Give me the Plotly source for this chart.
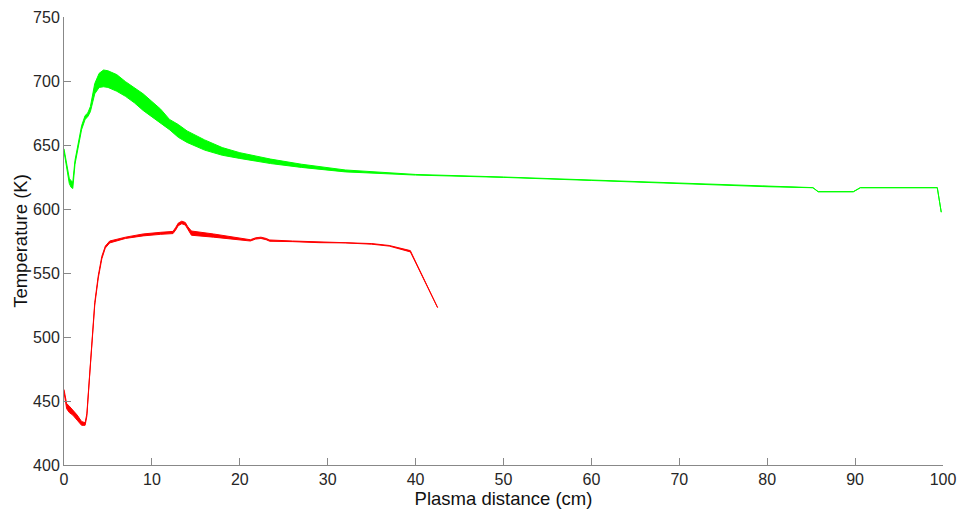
import plotly.graph_objects as go

# Green series (band: upper / lower)
green_x = [0, 0.3, 0.6, 0.8, 1.0, 1.25, 1.6, 2.0, 2.4, 2.7, 3.0, 3.5, 4.0, 4.5, 5.0, 6.0, 7.0, 8.0,
           9.0, 10.0, 11.0, 12.0, 13.0, 14.0, 16.0, 18.0, 20.0, 23.5, 27, 32, 40, 50, 60, 70, 80,
           85.2, 85.8, 89.8, 90.6, 95, 99.35, 99.8]
green_hi = [647, 636, 624, 622, 621, 638, 652, 665, 673, 675, 680, 698, 706, 708.6, 708, 705, 699.5, 695,
            690, 684, 678, 670, 666, 661, 654, 648, 644, 639, 635, 630.5, 627, 625, 622.5, 620, 617.5,
            616.7, 613.6, 613.6, 616.7, 616.7, 616.7, 597.5]
green_lo = [645, 632, 620, 617, 616, 635, 649, 662, 670, 672, 676, 690, 695, 695.5, 695, 692, 688, 683,
            677, 672, 667, 662, 656, 652, 646, 642, 639.5, 635.5, 632.5, 629, 626.5, 624.7, 622.3, 619.8, 617.4,
            616.6, 613.4, 613.4, 616.6, 616.6, 616.6, 597.5]

# Red series (band: upper / lower)
red_x = [0, 0.3, 0.6, 1.0, 1.5, 2.0, 2.4, 2.6, 2.9, 3.2, 3.5, 3.9, 4.3, 4.7, 5.2, 7, 9, 11, 12.4,
         12.7, 13.0, 13.4, 13.8, 14.1, 14.5, 17, 19, 21.2, 21.8, 22.4, 23.0, 23.4, 26, 29, 32, 35, 37,
         39.4, 42.5]
red_hi = [459, 448, 446, 443, 439, 434, 433, 440, 470, 500, 527, 548, 563, 571, 575, 578, 580.5, 581.8,
          582.5, 585.5, 589, 590.5, 589.5, 586, 582.8, 580.5, 578.5, 576, 577.5, 578, 577, 575.8, 575,
          574.3, 574, 573, 571.5, 567.5, 523]
red_lo = [457, 444, 441, 439, 435, 431, 431, 438, 468, 498, 525, 546, 561, 569.5, 573.5, 577, 579, 580.2,
          580.8, 583.5, 587, 588.5, 587.5, 584, 579.5, 578, 576.5, 575, 576.5, 577, 576, 574.8, 574.5,
          573.7, 573.5, 572.5, 571, 566.5, 523]

x_ticks = [0, 10, 20, 30, 40, 50, 60, 70, 80, 90, 100]
y_ticks = [400, 450, 500, 550, 600, 650, 700, 750]

fig = go.Figure()
for xs, lo, hi, col in [(green_x, green_lo, green_hi, "#00ff00"), (red_x, red_lo, red_hi, "#ff0000")]:
    fig.add_trace(go.Scatter(x=xs, y=lo, mode="lines", line=dict(color=col, width=1),
                             showlegend=False, hoverinfo="skip"))
    fig.add_trace(go.Scatter(x=xs, y=hi, mode="lines", line=dict(color=col, width=1),
                             fill="tonexty", fillcolor=col, showlegend=False, hoverinfo="skip"))

FONT = "Liberation Sans, Arial, sans-serif"
axis_common = dict(showgrid=False, zeroline=False, showline=True, linecolor="#888888", linewidth=1,
                   ticks="inside", ticklen=7, tickcolor="#888888", tickwidth=1, automargin=False,
                   tickfont=dict(family=FONT, size=16, color="#262626"),
                   title_font=dict(family=FONT, size=18.5, color="#111111"))

fig.update_xaxes(range=[0, 100], tickvals=x_ticks, ticktext=[str(v) for v in x_ticks],
                 title_text="Plasma distance (cm)", title_standoff=2, **axis_common)
fig.update_yaxes(range=[400, 750], tickvals=y_ticks, ticktext=[str(v) for v in y_ticks],
                 title_text="Temperature (K)", title_standoff=0, **axis_common)

fig.update_layout(width=960, height=509, margin=dict(l=64, r=17, t=17, b=44, autoexpand=False),
                  plot_bgcolor="white", paper_bgcolor="white", showlegend=False)

fig.write_html("out.html", config={"displayModeBar": False},
               post_script="document.body.style.margin='0';document.body.style.overflow='hidden';")
